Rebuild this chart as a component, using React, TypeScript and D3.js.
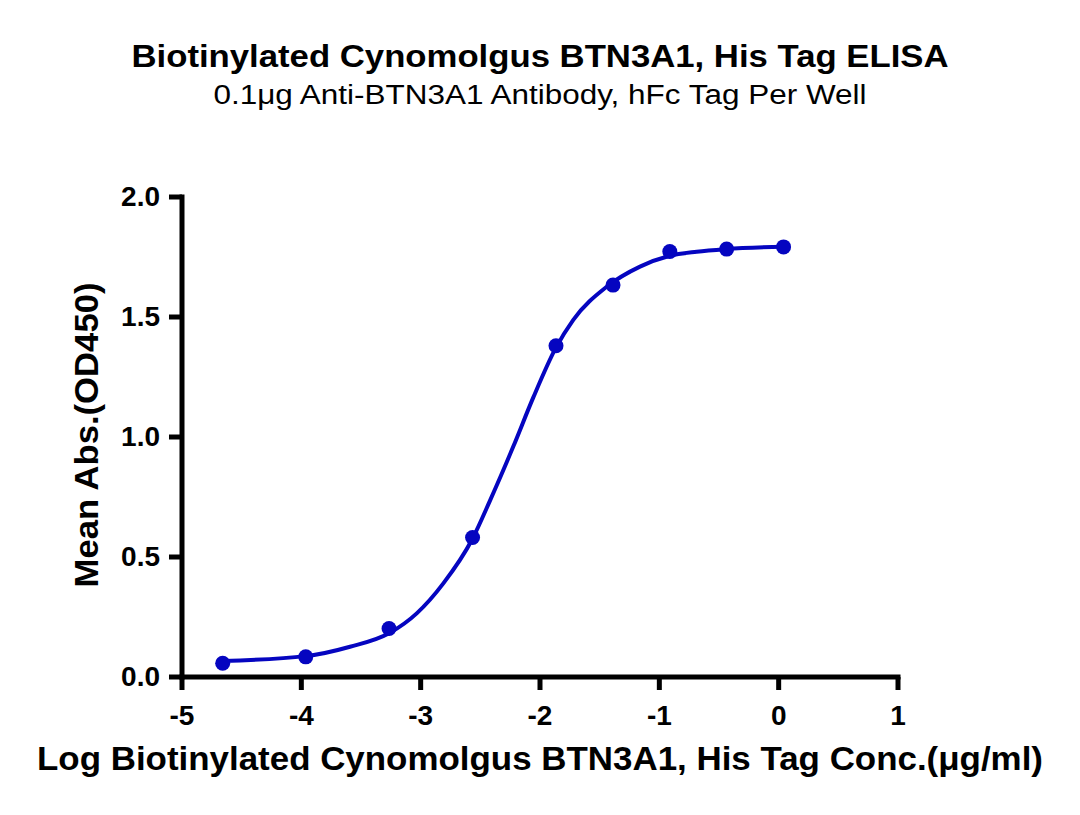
import React, { useEffect, useRef } from 'react'
import * as d3 from 'd3'

// measured points: log10 concentration (μg/ml) and mean OD450
const logConc = [-4.659, -3.963, -3.265, -2.565, -1.866, -1.388, -0.912, -0.436, 0.041]
const meanAbs = [0.057, 0.084, 0.202, 0.581, 1.380, 1.633, 1.773, 1.783, 1.792]

// fitted curve
const fitLogConc = [-4.659, -3.963, -3.592, -3.265, -3.033, -2.810, -2.567, -2.419, -2.224, -2.056, -1.874, -1.721, -1.441, -1.162, -0.919, -0.687, -0.441, 0.041]
const fitAbs = [0.067, 0.087, 0.126, 0.182, 0.265, 0.390, 0.575, 0.735, 0.960, 1.165, 1.365, 1.488, 1.626, 1.710, 1.754, 1.772, 1.783, 1.793]

const xTicks = [-5, -4, -3, -2, -1, 0, 1]
const yTicks = [0, 0.5, 1.0, 1.5, 2.0]

const title = 'Biotinylated Cynomolgus BTN3A1, His Tag ELISA'
const subtitle = '0.1μg Anti-BTN3A1 Antibody, hFc Tag Per Well'
const xTitle = 'Log Biotinylated Cynomolgus BTN3A1, His Tag Conc.(μg/ml)'
const yTitle = 'Mean Abs.(OD450)'

const FONT = '"Liberation Sans", Arial, Helvetica, sans-serif'
const BLUE = '#0505c0'

const ElisaChart = ({
  width = 1080,
  height = 815,
  margin = { top: 197, right: 182, bottom: 138, left: 182 },
}) => {
  const chartRef = useRef(null)

  useEffect(() => {
    const w = width - margin.left - margin.right
    const h = height - margin.top - margin.bottom

    const x = d3.scaleLinear().domain([-5, 1]).range([0, w])
    const y = d3.scaleLinear().domain([0, 2]).range([h, 0])

    const root = d3
      .select(chartRef.current)
      .append('svg')
      .attr('width', width)
      .attr('height', height)
      .style('display', 'block')
      .style('background', '#fff')
      .attr('font-family', FONT)

    // titles
    root.append('text')
      .attr('x', width / 2).attr('y', 67)
      .attr('text-anchor', 'middle')
      .attr('font-size', 32).attr('font-weight', 'bold')
      .attr('textLength', 817).attr('lengthAdjust', 'spacingAndGlyphs')
      .text(title)

    root.append('text')
      .attr('x', width / 2).attr('y', 104)
      .attr('text-anchor', 'middle')
      .attr('font-size', 27)
      .attr('textLength', 653).attr('lengthAdjust', 'spacingAndGlyphs')
      .text(subtitle)

    const g = root.append('g').attr('transform', `translate(${margin.left},${margin.top})`)

    // axes
    const xAxis = g.append('g')
      .attr('transform', `translate(0,${h})`)
      .call(
        d3.axisBottom(x).tickValues(xTicks).tickSize(13).tickSizeOuter(0)
          .tickPadding(15).offset(0).tickFormat((d) => String(d))
      )

    const yAxis = g.append('g')
      .call(
        d3.axisLeft(y).tickValues(yTicks).tickSize(13).tickSizeOuter(0)
          .tickPadding(9).offset(0).tickFormat(d3.format('.1f'))
      )

    ;[xAxis, yAxis].forEach((ax) => {
      ax.attr('font-family', FONT).attr('font-size', 28).attr('font-weight', 'bold')
      ax.select('.domain').attr('stroke', '#000').attr('stroke-width', 5).attr('stroke-linecap', 'square')
      ax.selectAll('.tick line').attr('stroke', '#000').attr('stroke-width', 5)
      ax.selectAll('.tick text').attr('fill', '#000')
    })

    // axis titles
    root.append('text')
      .attr('x', width / 2).attr('y', 770)
      .attr('text-anchor', 'middle')
      .attr('font-size', 33).attr('font-weight', 'bold')
      .attr('textLength', 1006).attr('lengthAdjust', 'spacingAndGlyphs')
      .text(xTitle)

    root.append('text')
      .attr('transform', `translate(98,435) rotate(-90)`)
      .attr('text-anchor', 'middle')
      .attr('font-size', 34).attr('font-weight', 'bold')
      .attr('textLength', 305).attr('lengthAdjust', 'spacingAndGlyphs')
      .text(yTitle)

    // fitted curve
    const fit = fitLogConc.map((c, i) => [c, fitAbs[i]])
    const line = d3.line()
      .x((d) => x(d[0]))
      .y((d) => y(d[1]))
      .curve(d3.curveMonotoneX)

    g.append('path')
      .datum(fit)
      .attr('fill', 'none')
      .attr('stroke', BLUE)
      .attr('stroke-width', 4)
      .attr('d', line)

    // points
    g.selectAll('.pt')
      .data(logConc.map((c, i) => [c, meanAbs[i]]))
      .enter()
      .append('circle')
      .attr('class', 'pt')
      .attr('cx', (d) => x(d[0]))
      .attr('cy', (d) => y(d[1]))
      .attr('r', 7.5)
      .attr('fill', BLUE)

    return () => {
      d3.select(chartRef.current).selectAll('*').remove()
    }
  }, [width, height, margin])

  return <div ref={chartRef} style={{ position: 'absolute', left: 0, top: 0 }}></div>
}

export default function App() {
  return <ElisaChart />
}
